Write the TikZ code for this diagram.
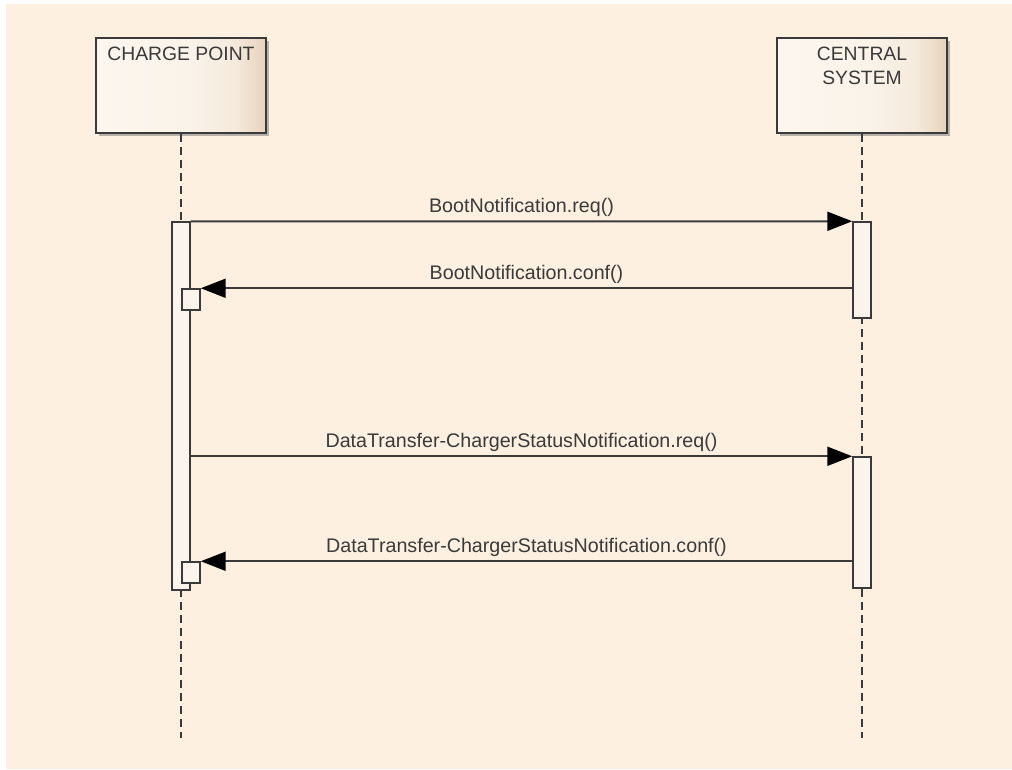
\documentclass[tikz,border=0pt]{standalone}
\usepackage{fontspec}
\setmainfont{Liberation Sans}
\usetikzlibrary{arrows.meta,shadows}
\definecolor{paper}{HTML}{FDF0E1}
\definecolor{boxleft}{HTML}{FCF6EE}
\definecolor{boxright}{HTML}{E6D2BA}
\definecolor{ink}{HTML}{3A3A3A}
\definecolor{barfill}{HTML}{FBF4EC}
\pgfdeclarehorizontalshading{actorshade}{100bp}{color(0bp)=(boxleft); color(25bp)=(boxleft); color(52bp)=(boxleft!92!boxright); color(66bp)=(boxleft!65!boxright); color(75bp)=(boxright); color(100bp)=(boxright)}
\tikzstyle{actor}=[rectangle,draw=ink,line width=0.04cm,minimum width=3.42cm,minimum height=1.9cm,shading=actorshade,drop shadow={shadow xshift=0.06cm,shadow yshift=-0.06cm,fill=black!55}]
\tikzstyle{actorname}=[anchor=north,inner sep=0pt,yshift=-0.2cm,align=center,text=ink,font=\fontsize{11pt}{13.7pt}\selectfont]
\tikzstyle{activation}=[rectangle,draw=ink,line width=0.03cm,fill=barfill,minimum width=0.36cm,inner sep=0pt]
\tikzstyle{retbox}=[activation,minimum height=0.42cm]
\tikzstyle{lifeline}=[draw=ink,line width=0.03cm,dash pattern=on 0.16cm off 0.1cm]
\tikzstyle{msg}=[draw=ink,line width=0.04cm,-{Triangle[length=0.5cm,width=0.38cm,color=black]}]
\tikzstyle{msglabel}=[above,inner sep=0.08cm,text=ink,font=\fontsize{11.2pt}{13.7pt}\selectfont]

\begin{document}
\begin{tikzpicture}[x=0.02cm,y=-0.02cm]
\useasboundingbox (0,0) rectangle (1012,769);
\fill[paper] (6,4) rectangle (1012,769);

\node[actor,label={[actorname]north:CHARGE POINT}] at (181,85.5) (cp) {};
\node[actor,label={[actorname]north:CENTRAL\\SYSTEM}] at (862,85.5) (cs) {};

\coordinate (cpend) at (181,738);
\coordinate (csend) at (862,738);
\draw[lifeline] (cp) -- (cpend);
\draw[lifeline] (cs) -- (csend);

\node[activation,minimum height=7.36cm] at (181,406) (cpact) {};
\node[activation,minimum height=1.92cm] at (862,270) (csreq1) {};
\node[activation,minimum height=2.62cm] at (862,522.5) (csreq2) {};
\node[retbox] at (191,299.5) (cpret1) {};
\node[retbox] at (191,572.5) (cpret2) {};

\draw[msg] (cpact.north east) -- node[msglabel] {BootNotification.req()} (csreq1.north west);
\draw[msg] (csreq1.west |- cpret1.north) -- node[msglabel] {BootNotification.conf()} (cpret1.north east);
\draw[msg] (cpact.east |- csreq2.north) -- node[msglabel] {DataTransfer-ChargerStatusNotification.req()} (csreq2.north west);
\draw[msg] (csreq2.west |- cpret2.north) -- node[msglabel] {DataTransfer-ChargerStatusNotification.conf()} (cpret2.north east);

\end{tikzpicture}
\end{document}
